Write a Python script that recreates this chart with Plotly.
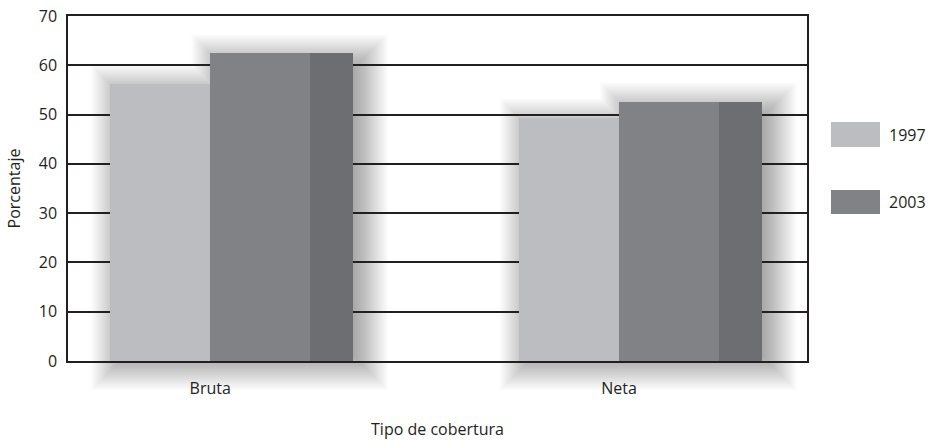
import plotly.graph_objects as go

# ---- data ----
categories = ["Bruta", "Neta"]
series_names = ["1997", "2003"]
values_1997 = [56.3, 49.4]
values_2003 = [62.4, 52.6]
y_ticks = [0, 10, 20, 30, 40, 50, 60, 70]

# ---- style ----
FONT = "Open Sans"
TXT = "#231f20"
C97 = "#bcbdc0"
C03 = "#808285"
CSIDE = "#6d6e71"

W, H = 934, 440
ML, MR, MT, MB = 68, 127, 16, 79
PW = W - ML - MR
PH = H - MT - MB
XR = [-0.348, 1.46]
YR = [0, 70]
BW = 0.245       # front face width
SW = 0.104       # side face width

fig = go.Figure()
idx = list(range(len(categories)))

fig.add_trace(go.Bar(x=categories, y=values_1997, name=series_names[0],
                     marker=dict(color=C97, line=dict(width=0)),
                     offset=-BW, width=BW, showlegend=False))
fig.add_trace(go.Bar(x=categories, y=values_2003, name=series_names[1],
                     marker=dict(color=C03, line=dict(width=0)),
                     offset=0, width=BW, showlegend=False))
fig.add_trace(go.Bar(x=categories, y=values_2003, name=series_names[1] + " (lado)",
                     marker=dict(color=CSIDE, line=dict(width=0)),
                     offset=BW, width=SW, showlegend=False, hoverinfo="skip"))

# ---- soft drop shadows derived from data (paper coords) ----
def px(xv):
    return (xv - XR[0]) / (XR[1] - XR[0])

def py(yv):
    return (yv - YR[0]) / (YR[1] - YR[0])

shapes = []
STEP = 1.5
EXP = [k * STEP for k in range(-16, 19)]   # -24px .. +27px
ALPHA = 0.0145
SHIFT_X = 8.0      # px to the right
TOP_DROP = 8.0     # shadow top lowered (px)
BOT_DROP = 2.0     # shadow bottom lowered (px)
for i, v97, v03 in zip(idx, values_1997, values_2003):
    al, ar = px(i - BW) + SHIFT_X / PW, px(i) + SHIFT_X / PW
    bl, br = px(i) + SHIFT_X / PW, px(i + BW + SW) + SHIFT_X / PW
    at, bt = py(v97) - TOP_DROP / PH, py(v03) - TOP_DROP / PH
    b0 = py(0) - BOT_DROP / PH
    for e in EXP:
        ex = e / PW
        ey = e / PH
        if bt >= at:
            pts = [(al - ex, b0 - ey), (br + ex, b0 - ey), (br + ex, bt + ey),
                   (bl - ex, bt + ey), (bl - ex, at + ey), (al - ex, at + ey)]
        else:
            pts = [(al - ex, b0 - ey), (br + ex, b0 - ey), (br + ex, bt + ey),
                   (ar + ex, bt + ey), (ar + ex, at + ey), (al - ex, at + ey)]
        path = "M" + " L".join(f"{x:.5f},{y:.5f}" for x, y in pts) + " Z"
        shapes.append(dict(type="path", path=path, xref="paper", yref="paper",
                           fillcolor=f"rgba(0,0,0,{ALPHA})", line=dict(width=0),
                           layer="below"))

# ---- legend (large swatches) ----
leg_colors = [C97, C03]
leg_y = [(122, 147), (190, 214)]
for name, col, (y0, y1) in zip(series_names, leg_colors, leg_y):
    shapes.append(dict(type="rect", xref="paper", yref="paper",
                       x0=(831 - ML) / PW, x1=(880 - ML) / PW,
                       y0=(H - MB - y1) / PH, y1=(H - MB - y0) / PH,
                       fillcolor=col, line=dict(width=0)))
    fig.add_annotation(text=name, xref="paper", yref="paper",
                       x=(887 - ML) / PW, y=(H - MB - (y0 + y1) / 2) / PH,
                       xanchor="left", yanchor="middle", showarrow=False,
                       font=dict(family=FONT, size=16, color=TXT))

fig.update_layout(
    width=W, height=H,
    margin=dict(l=ML, r=MR, t=MT, b=MB, pad=0, autoexpand=False),
    paper_bgcolor="white", plot_bgcolor="rgba(0,0,0,0)",
    barmode="overlay", bargap=0,
    showlegend=False,
    shapes=shapes,
    font=dict(family=FONT, size=16, color=TXT),
)
fig.update_xaxes(range=XR, showgrid=False, zeroline=False, automargin=False,
                 showline=True, linecolor=TXT, linewidth=1.5, mirror=True,
                 ticks="", ticklabelstandoff=12,
                 tickfont=dict(family=FONT, size=16, color=TXT),
                 title=dict(text="Tipo de cobertura", standoff=30,
                            font=dict(family=FONT, size=16, color=TXT)))
fig.update_yaxes(range=YR, tickvals=y_ticks, showgrid=True, gridcolor=TXT,
                 gridwidth=2, zeroline=False, automargin=False,
                 showline=True, linecolor=TXT, linewidth=1.5, mirror=True,
                 ticks="", ticklabelstandoff=6,
                 tickfont=dict(family=FONT, size=16, color=TXT),
                 title=dict(text="Porcentaje", standoff=14,
                            font=dict(family=FONT, size=16, color=TXT)))

fig.write_html("out.html",
               config={"displayModeBar": False},
               post_script="document.body.style.margin='0';document.body.style.overflow='hidden';")
